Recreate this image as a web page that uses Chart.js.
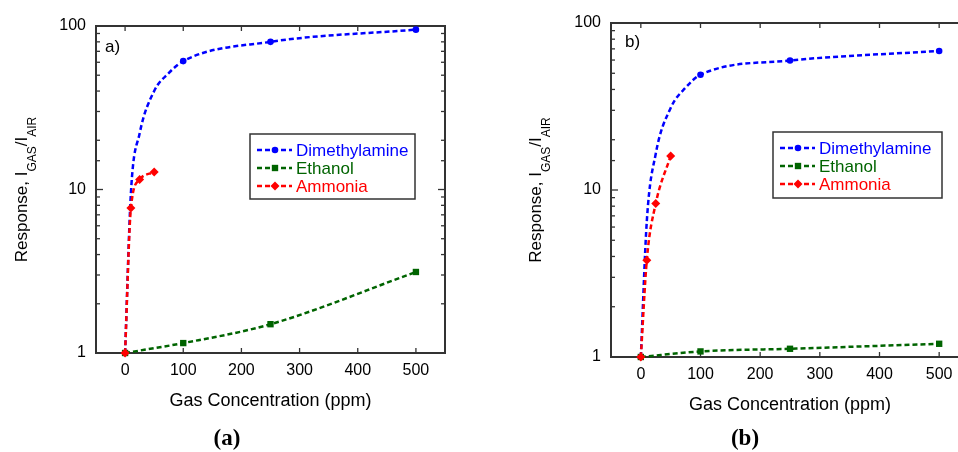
<!DOCTYPE html>
<html>
<head>
<meta charset="utf-8">
<script src="https://cdn.jsdelivr.net/npm/chart.js@4/dist/chart.umd.min.js"></script>
<style>
  html, body { margin: 0; padding: 0; background: #fff; overflow: hidden; width: 958px; height: 452px; position: relative; }
  .panel { position: absolute; top: 0; }
  #wrapA { left: 0; }
  #wrapB { left: 480px; }
  .cap { position: absolute; top: 425px; width: 80px; text-align: center; font: bold 23px "Liberation Serif", "DejaVu Serif", serif; color: #000; }
</style>
</head>
<body>
<div class="panel" id="wrapA"><canvas id="chartA" width="480" height="452"></canvas></div>
<div class="panel" id="wrapB"><canvas id="chartB" width="520" height="452"></canvas></div>
<div class="cap" style="left:187px">(a)</div>
<div class="cap" style="left:705px">(b)</div>
<script>
// gas concentrations (ppm)
const concDma = [0, 10, 25, 50, 75, 100, 250, 500];
const concEthanol = [0, 100, 250, 500];
const concAmmonia = [0, 10, 25, 50];

// response I_GAS / I_AIR, panel a
const dmaA = [1, 9.5, 22, 40, 51.5, 61, 80, 95];
const ethanolA = [1, 1.15, 1.5, 3.13];
const ammoniaA = [1, 7.7, 11.5, 12.8];

// response, panel b
const dmaB = [1, 6.5, 16.5, 31, 41, 49, 59.6, 68];
const ethanolB = [1, 1.08, 1.12, 1.2];
const ammoniaB = [1, 3.8, 8.3, 16];

const seriesNames = ['Dimethylamine', 'Ethanol', 'Ammonia'];
const xTicks = [0, 100, 200, 300, 400, 500];
const yLabels = [1, 10, 100];

// dimethylamine curve only carries markers at these concentrations
const dmaMarkedX = [0, 100, 250, 500];

const BLUE = '#0000ff', GREEN = '#006400', RED = '#ff0000';
const FONT = '"Liberation Sans", Arial, sans-serif';

function toPoints(xs, ys) {
    return xs.map((x, i) => ({ x: x, y: ys[i] }));
}

function dataset(label, xs, ys, color, shape, radius, order, marked) {
    return {
        label: label,
        data: toPoints(xs, ys),
        borderColor: color,
        backgroundColor: color,
        borderWidth: 2.5,
        borderDash: [5, 3],
        pointStyle: shape,
        markerSize: radius,
        pointRadius: marked ? (c => marked.includes(c.raw.x) ? radius : 0) : radius,
        pointBorderWidth: 0,
        cubicInterpolationMode: 'monotone',
        clip: false,
        order: order
    };
}

function line(ctx, x1, y1, x2, y2) {
    ctx.beginPath();
    ctx.moveTo(x1, y1);
    ctx.lineTo(x2, y2);
    ctx.stroke();
}

function framePlugin(p) {
    return {
        id: 'frame' + p.tag,
        beforeDatasetsDraw(chart) {
            const ctx = chart.ctx, a = chart.chartArea;
            const xs = chart.scales.x, ys = chart.scales.y;
            ctx.save();
            ctx.strokeStyle = '#333';
            ctx.lineWidth = 2;
            ctx.strokeRect(a.left, a.top, a.right - a.left, a.bottom - a.top);
            ctx.lineWidth = 1.3;
            xs.ticks.forEach(t => {
                const px = xs.getPixelForValue(t.value);
                line(ctx, px, a.bottom, px, a.bottom - 5);
                line(ctx, px, a.top, px, a.top + 5);
            });
            ys.ticks.forEach(t => {
                const py = ys.getPixelForValue(t.value);
                const len = yLabels.includes(t.value) ? 7 : 4;
                line(ctx, a.left, py, a.left + len, py);
                line(ctx, a.right, py, a.right - len, py);
            });
            ctx.restore();
        },
        afterDraw(chart) {
            const ctx = chart.ctx, a = chart.chartArea;
            ctx.save();
            // panel label
            ctx.fillStyle = '#000';
            ctx.font = '17px ' + FONT;
            ctx.textBaseline = 'middle';
            ctx.textAlign = 'left';
            ctx.fillText(p.tag + ')', p.labelX, p.labelY);

            // x title
            ctx.font = '18px ' + FONT;
            ctx.textAlign = 'center';
            ctx.fillText('Gas Concentration (ppm)', (a.left + a.right) / 2, p.xTitleY);

            // y title with subscripts
            const parts = [['Response, I', 17, 0], ['GAS', 12, 9], ['/I', 17, 0], ['AIR', 12, 9]];
            let total = 0;
            parts.forEach(s => { ctx.font = s[1] + 'px ' + FONT; total += ctx.measureText(s[0]).width; });
            ctx.translate(p.yTitleX, (a.top + a.bottom) / 2);
            ctx.rotate(-Math.PI / 2);
            ctx.textAlign = 'left';
            ctx.textBaseline = 'alphabetic';
            let cx = -total / 2;
            parts.forEach(s => {
                ctx.font = s[1] + 'px ' + FONT;
                ctx.fillText(s[0], cx, s[2]);
                cx += ctx.measureText(s[0]).width;
            });
            ctx.restore();

            // legend
            const b = p.legend;
            const colors = [BLUE, GREEN, RED];
            ctx.save();
            ctx.fillStyle = '#fff';
            ctx.fillRect(b.x, b.y, b.w, b.h);
            ctx.strokeStyle = '#333';
            ctx.lineWidth = 1.5;
            ctx.strokeRect(b.x, b.y, b.w, b.h);
            ctx.font = '17px ' + FONT;
            ctx.textBaseline = 'middle';
            ctx.textAlign = 'left';
            chart.data.datasets.forEach((ds, i) => {
                const ry = b.y + 16 + i * 18;
                ctx.strokeStyle = colors[i];
                ctx.lineWidth = 2.5;
                ctx.setLineDash([5, 3]);
                line(ctx, b.x + 7, ry, b.x + 42, ry);
                ctx.setLineDash([]);
                ctx.fillStyle = colors[i];
                Chart.helpers.drawPoint(ctx, { pointStyle: ds.pointStyle, radius: ds.markerSize, borderWidth: 0 }, b.x + 25, ry);
                ctx.fillText(seriesNames[i], b.x + 46, ry + 1);
            });
            ctx.restore();
        }
    };
}

function buildChart(id, p) {
    return new Chart(document.getElementById(id), {
        type: 'line',
        data: {
            datasets: [
                dataset(seriesNames[0], concDma, p.dma, BLUE, 'circle', 3.3, 2, dmaMarkedX),
                dataset(seriesNames[1], concEthanol, p.eth, GREEN, 'rect', 4.5, 1),
                dataset(seriesNames[2], concAmmonia, p.amm, RED, 'rectRot', 4.5, 0)
            ]
        },
        options: {
            responsive: false,
            animation: false,
            events: [],
            layout: { padding: { top: p.top, right: p.right, left: 0, bottom: 0 } },
            plugins: { legend: { display: false }, tooltip: { enabled: false } },
            scales: {
                x: {
                    type: 'linear', min: -50, max: 550,
                    afterBuildTicks: s => { s.ticks = xTicks.map(v => ({ value: v })); },
                    afterFit: s => { s.height = p.xh; },
                    grid: { display: false, drawTicks: false },
                    border: { display: false },
                    ticks: { color: '#000', font: { family: FONT, size: 16 }, padding: 8, maxRotation: 0, autoSkip: false }
                },
                y: {
                    type: 'logarithmic', min: 1, max: 100,
                    afterFit: s => { s.width = p.yw; },
                    grid: { display: false, drawTicks: false },
                    border: { display: false },
                    ticks: {
                        color: '#000', font: { family: FONT, size: 16 }, padding: 10, autoSkip: false,
                        callback: v => yLabels.includes(v) ? String(v) : ''
                    }
                }
            }
        },
        plugins: [framePlugin(p)]
    });
}

buildChart('chartA', {
    tag: 'a', dma: dmaA, eth: ethanolA, amm: ammoniaA,
    yw: 96, xh: 99, top: 26, right: 35,
    labelX: 105, labelY: 47, xTitleY: 401, yTitleX: 26.5,
    legend: { x: 250, y: 134, w: 165, h: 65 }
});

buildChart('chartB', {
    tag: 'b', dma: dmaB, eth: ethanolB, amm: ammoniaB,
    yw: 131, xh: 95, top: 23, right: 31,
    labelX: 145, labelY: 42, xTitleY: 405, yTitleX: 61,
    legend: { x: 293, y: 132, w: 169, h: 66 }
});
</script>
</body>
</html>
